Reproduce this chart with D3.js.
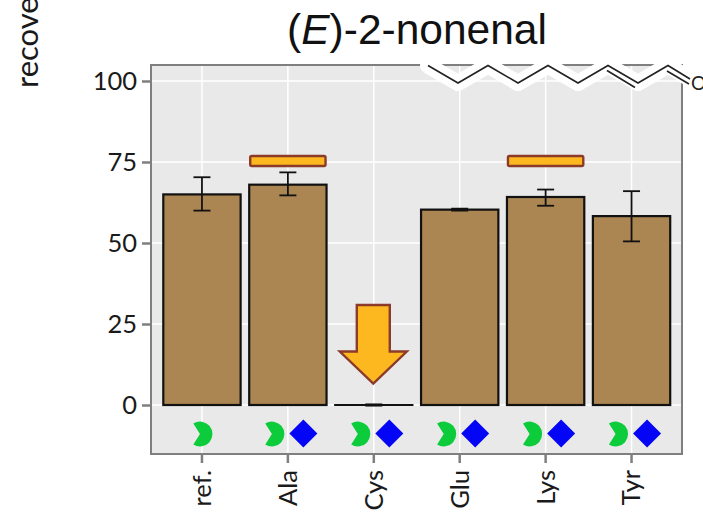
<!DOCTYPE html>
<html><head><meta charset="utf-8">
<script src="https://cdn.jsdelivr.net/npm/d3@7/dist/d3.min.js"></script>
<style>html,body{margin:0;padding:0;background:#fff}svg{display:block}</style>
</head><body><svg id="c" width="703" height="512"></svg>
<script>
const categories = ["ref.","Ala","Cys","Glu","Lys","Tyr"];
const values = [65,68,0,60.3,64.2,58.3];
const errLow = [60,64.7,-0.2,60,61.5,50.5];
const errHigh = [70.3,71.8,0.2,60.6,66.5,66];
const yTicks = [0,25,50,75,100];
const highlightBars = ["Ala","Lys"];
const highlightValue = 75.3;
const pacmanCats = ["ref.","Ala","Cys","Glu","Lys","Tyr"];
const diamondCats = ["Ala","Cys","Glu","Lys","Tyr"];

const W=703,H=512,L=151,R=682,T=65,B=454;
const svg=d3.select("#c");
const x=d3.scaleBand().domain(categories).range([159,674.5]).paddingInner(0.1).paddingOuter(0.05);
const cx=c=>x(c)+x.bandwidth()/2;
const y=d3.scaleLinear().domain([0,100]).range([405,81]);
const sans="Lato, 'Open Sans', sans-serif";
const grey="#7f7f7f";

svg.append("rect").attr("x",L).attr("y",T).attr("width",R-L).attr("height",B-T).attr("fill","#e9e9e9");
svg.append("g").selectAll("line").data(yTicks).join("line")
 .attr("x1",L).attr("x2",R).attr("y1",d=>y(d)).attr("y2",d=>y(d)).attr("stroke","#fff").attr("stroke-width",1.5);
svg.append("g").selectAll("line").data(categories).join("line")
 .attr("x1",cx).attr("x2",cx).attr("y1",T).attr("y2",B).attr("stroke","#fff").attr("stroke-width",1.5);

// bars
svg.append("g").selectAll("rect").data(categories.filter((c,i)=>values[i]>0)).join("rect")
 .attr("x",d=>x(d)).attr("width",x.bandwidth())
 .attr("y",d=>y(values[categories.indexOf(d)])).attr("height",d=>y(0)-y(values[categories.indexOf(d)]))
 .attr("fill","#ab8552").attr("stroke","#111").attr("stroke-width",2.2);
// zero-height bars collapse to a line
svg.append("g").selectAll("line").data(categories.filter((c,i)=>values[i]===0)).join("line")
 .attr("x1",d=>x(d)-1).attr("x2",d=>x(d)+x.bandwidth()+1).attr("y1",y(0)).attr("y2",y(0))
 .attr("stroke","#111").attr("stroke-width",2.2);

// error bars
const eb=svg.append("g").attr("stroke","#111").attr("stroke-width",1.8).attr("fill","none");
categories.forEach((c,i)=>{
  const X=cx(c);
  eb.append("line").attr("x1",X).attr("x2",X).attr("y1",y(errLow[i])).attr("y2",y(errHigh[i]));
  [errLow[i],errHigh[i]].forEach(v=>eb.append("line").attr("x1",X-8.5).attr("x2",X+8.5).attr("y1",y(v)).attr("y2",y(v)));
});

// highlight bars
svg.append("g").selectAll("rect").data(highlightBars).join("rect")
 .attr("x",d=>x(d)+1).attr("width",x.bandwidth()-2).attr("y",y(highlightValue)-5).attr("height",10).attr("rx",1.5)
 .attr("fill","#fdb71f").attr("stroke","#8c3b2a").attr("stroke-width",2.4);

// arrow
const ax=cx("Cys")-0.5;
svg.append("path").attr("d",d3.line()([[ax-16.5,305],[ax+16.5,305],[ax+16.5,351.5],[ax+33.5,351.5],[ax,383.5],[ax-33.5,351.5],[ax-16.5,351.5]])+"Z")
 .attr("fill","#fdb71f").attr("stroke","#8c3b2a").attr("stroke-width",2.4).attr("stroke-linejoin","miter");

// symbols
const ang=Math.PI/180;
const arc=d3.arc().innerRadius(0).outerRadius(12.5).startAngle(-32*ang).endAngle(212*ang);
svg.append("g").selectAll("path").data(pacmanCats).join("path")
 .attr("d",arc()).attr("fill","#0dcc3c")
 .attr("transform",d=>`translate(${d==="ref."?cx(d)-2:cx(d)-16},434)`);
const dia=14;
svg.append("g").selectAll("path").data(diamondCats).join("path")
 .attr("d",d3.line()([[0,-dia],[dia,0],[0,dia],[-dia,0]])+"Z").attr("fill","#0505f5")
 .attr("transform",d=>`translate(${cx(d)+15.5},433.5)`);

// frame
svg.append("rect").attr("x",L).attr("y",T).attr("width",R-L).attr("height",B-T).attr("fill","none").attr("stroke",grey).attr("stroke-width",2);

// molecule
const chain=[[428,65.5],[458,83],[488,65.5],[518,83],[548,65.5],[578,83],[608,65.5],[638,83],[668,65.5],[690,79]];
const line=d3.line();
const halo=[[428,65.5],...chain.slice(1),[697,83]];
svg.append("path").attr("d",line(halo)).attr("fill","none").attr("stroke","#fff").attr("stroke-width",16).attr("stroke-linejoin","round").attr("stroke-linecap","round");
svg.append("rect").attr("x",683).attr("y",50).attr("width",20).attr("height",40).attr("fill","#fff");
svg.append("path").attr("d",line(chain)).attr("fill","none").attr("stroke","#222").attr("stroke-width",1.6);
svg.append("path").attr("d",line([[607,70.5],[635,87.5]])).attr("fill","none").attr("stroke","#222").attr("stroke-width",1.6);
svg.append("path").attr("d",line([[667,71],[689,84]])).attr("fill","none").attr("stroke","#222").attr("stroke-width",1.6);
svg.append("text").attr("x",691).attr("y",90).attr("font-family",sans).attr("font-size",19).attr("fill","#222").text("O");

// axes
const yAxis=d3.axisLeft(y).tickValues(yTicks).tickSize(8).tickPadding(5);
const gy=svg.append("g").attr("transform",`translate(${L-1},0)`).call(yAxis);
gy.select(".domain").remove();
gy.selectAll(".tick line").attr("stroke",grey).attr("stroke-width",2.5);
gy.selectAll("text").attr("font-family",sans).attr("font-size",25.5).attr("fill","#1a1a1a");

const xAxis=d3.axisBottom(x).tickSize(8).tickPadding(0);
const gx=svg.append("g").attr("transform",`translate(0,${B+1})`).call(xAxis);
gx.select(".domain").remove();
gx.selectAll(".tick line").attr("stroke",grey).attr("stroke-width",2.5);
gx.selectAll("text").attr("font-family",sans).attr("font-size",25.5).attr("fill","#1a1a1a")
 .attr("transform","rotate(-90)").attr("text-anchor","end").attr("x",-15).attr("y",0).attr("dy","0.35em");

// titles
const title=svg.append("text").attr("x",417).attr("y",44).attr("text-anchor","middle")
 .attr("font-family","'Liberation Sans', Arial, sans-serif").attr("font-size",42.5).attr("fill","#111");
title.append("tspan").text("(");
title.append("tspan").attr("font-style","italic").text("E");
title.append("tspan").text(")-2-nonenal");
svg.append("text").attr("transform","translate(38,88) rotate(-90)").attr("font-family",sans).attr("font-size",31).attr("fill","#1a1a1a").text("recovery (%)");
</script></body></html>
